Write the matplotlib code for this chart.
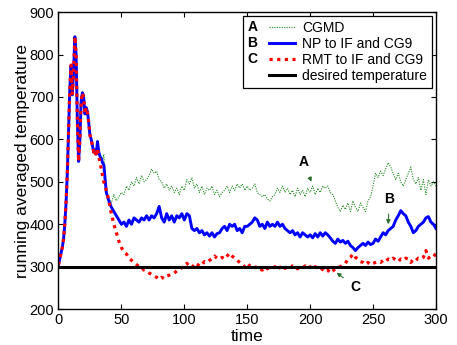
import matplotlib
matplotlib.use("Agg")
import matplotlib.pyplot as plt
from matplotlib.legend_handler import HandlerBase
from matplotlib.lines import Line2D
from matplotlib.text import Text

plt.rcParams['font.family'] = ['Liberation Sans', 'DejaVu Sans']

# ---- data ----
early_time = list(range(0, 37))
late_time = list(range(38, 301, 2))
time = early_time + late_time

shared_early = [305, 318, 330, 345, 365, 400, 450, 520, 620, 720,
                775, 705, 760, 842, 800, 640, 548, 600, 690, 710,
                700, 660, 675, 665, 640, 610, 600, 585, 570, 575]

cgmd = shared_early + [565, 595, 575, 560, 555, 550, 565] + [
    480, 460, 450, 470, 455, 465, 475, 470, 490, 480,
    500, 490, 510, 495, 515, 500, 505, 515, 530, 520,
    525, 505, 500, 485, 495, 480, 490, 475, 485, 470,
    490, 480, 505, 495, 510, 485, 495, 475, 490, 470,
    485, 480, 490, 470, 480, 465, 475, 480, 490, 475,
    490, 480, 495, 485, 495, 480, 490, 480, 485, 495,
    475, 470, 465, 470, 460, 455, 465, 470, 485, 475,
    490, 475, 485, 470, 480, 465, 485, 470, 480, 465,
    485, 475, 490, 470, 485, 475, 490, 485, 490, 475,
    470, 455, 440, 430, 445, 435, 450, 430, 455, 440,
    430, 450, 440, 430, 455, 465, 490, 520, 510, 525,
    515, 530, 545, 535, 520, 505, 520, 500, 490, 505,
    520, 535, 505, 495, 510, 480, 505, 470, 505, 490,
    500, 490]

np_if_cg9 = shared_early + [565, 595, 570, 560, 555, 545, 540] + [
    475, 455, 440, 430, 420, 410, 400, 405, 395, 410,
    400, 415, 410, 405, 415, 410, 420, 410, 420, 415,
    425, 442, 415, 405, 425, 410, 420, 405, 420, 415,
    425, 410, 425, 420, 390, 385, 390, 380, 385, 375,
    380, 372, 380, 370, 378, 380, 390, 395, 385, 400,
    395, 400, 385, 390, 380, 395, 395, 400, 405, 415,
    410, 395, 400, 390, 405, 395, 400, 395, 405, 395,
    400, 390, 385, 380, 385, 375, 380, 370, 380, 375,
    370, 375, 368, 378, 370, 380, 372, 380, 375, 368,
    360, 355, 365, 358, 362, 355, 360, 350, 345, 338,
    345, 350, 355, 350, 358, 352, 355, 365, 360, 370,
    380, 375, 385, 390, 395, 410, 420, 432, 425, 420,
    405, 395, 380, 385, 395, 400, 405, 415, 418, 405,
    400, 390]

rmt_if_cg9 = shared_early + [560, 580, 560, 545, 530, 515, 500] + [
    480, 455, 425, 400, 380, 360, 345, 335, 330, 320,
    315, 310, 305, 300, 298, 292, 290, 285, 282, 278,
    275, 270, 275, 272, 278, 280, 282, 285, 290, 292,
    298, 300, 308, 302, 298, 305, 300, 308, 305, 312,
    310, 315, 318, 325, 320, 318, 322, 318, 325, 332,
    325, 320, 315, 310, 305, 300, 308, 302, 305, 298,
    300, 295, 292, 298, 295, 300, 296, 300, 294, 298,
    302, 296, 300, 295, 302, 298, 295, 300, 297, 302,
    296, 300, 295, 300, 296, 298, 293, 288, 292, 285,
    290, 295, 298, 300, 305, 308, 318, 322, 330, 322,
    318, 312, 310, 305, 310, 305, 308, 310, 312, 310,
    315, 312, 318, 315, 320, 316, 312, 318, 315, 320,
    318, 310, 318, 315, 320, 318, 322, 338, 320, 325,
    330, 325]

desired_temperature = 300
series_labels = ['CGMD', 'NP to IF and CG9', 'RMT to IF and CG9', 'desired temperature']
series_letters = ['A', 'B', 'C', '']


class LetterHandler(HandlerBase):
    def __init__(self, letter):
        super().__init__()
        self.letter = letter

    def create_artists(self, legend, orig_handle, xdescent, ydescent,
                       width, height, fontsize, trans):
        y = height / 2 - ydescent
        x0 = -xdescent + width * 0.45
        line = Line2D([x0, -xdescent + width], [y, y])
        line.update_from(orig_handle)
        line.set_transform(trans)
        arts = [line]
        if self.letter:
            txt = Text(-xdescent, y, self.letter, fontweight='bold',
                       fontsize=fontsize, va='center', ha='left')
            txt.set_transform(trans)
            arts.append(txt)
        return arts


fig = plt.figure(figsize=(4.57, 3.45), dpi=100)
ax = fig.add_axes([0.128, 0.104, 0.826, 0.861])

green = '#1f8a1f'
l1, = ax.plot(time, cgmd, color=green, lw=0.8, ls=(0, (1, 1.2)))
l2, = ax.plot(time, np_if_cg9, color='#0000ff', lw=2.1)
l3, = ax.plot(time, rmt_if_cg9, color='#ff0000', lw=2.3, ls=(0, (1, 1.4)),
              dash_capstyle='butt')
l4 = ax.axhline(desired_temperature, color='black', lw=2.2)

handles = [l1, l2, l3, l4]
leg = ax.legend(handles, series_labels, loc='upper right',
                bbox_to_anchor=(0.99, 0.988), fontsize=10,
                handlelength=3.4, handletextpad=0.55, labelspacing=0.15,
                borderpad=0.35, borderaxespad=0.0, fancybox=False,
                edgecolor='black', framealpha=1,
                handler_map={h: LetterHandler(L) for h, L in zip(handles, series_letters)})
leg.get_frame().set_linewidth(0.9)

arrow_color = '#2a6e2a'
akw = dict(arrowstyle='-|>', color=arrow_color, lw=0.8, mutation_scale=6,
           shrinkA=4, shrinkB=0)
ax.annotate('A', xy=(201, 500), xytext=(195, 546), fontsize=10, fontweight='bold',
            ha='center', va='center', arrowprops=akw)
ax.annotate('B', xy=(262, 400), xytext=(263, 460), fontsize=10, fontweight='bold',
            ha='center', va='center', arrowprops=akw)
ax.annotate('C', xy=(221, 286), xytext=(236, 252), fontsize=10, fontweight='bold',
            ha='center', va='center', arrowprops=akw)

ax.set_xlim(0, 300)
ax.set_ylim(200, 900)
ax.set_xticks(range(0, 301, 50))
ax.set_yticks(range(200, 901, 100))
ax.tick_params(direction='in', top=True, right=True, labelsize=10.5, length=3.5,
               width=0.8, pad=3)
for s in ax.spines.values():
    s.set_linewidth(1.0)
ax.set_xlabel('time', fontsize=12.5, labelpad=1.5)
ax.set_ylabel('running averaged temperature', fontsize=12.5, labelpad=0)

fig.savefig('out.png', dpi=100)
